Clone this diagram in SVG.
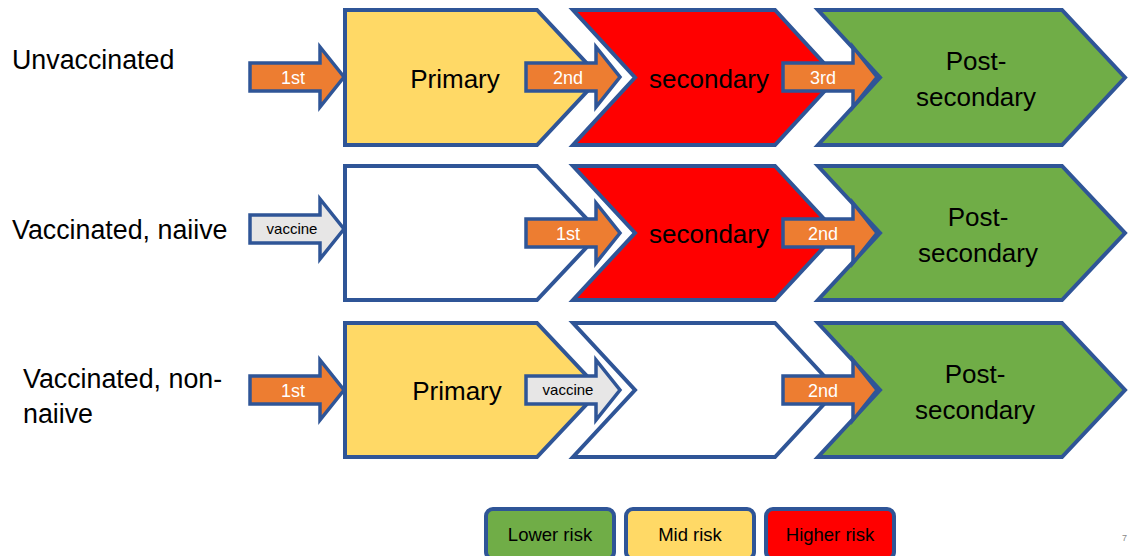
<svg xmlns="http://www.w3.org/2000/svg" width="1129" height="556" viewBox="0 0 1129 556">
<style>
.shape{stroke:#2F5597;stroke-width:4;stroke-linejoin:miter}
.arr{stroke:#2F5597;stroke-width:3.5;stroke-linejoin:miter}
.lbl{font-family:"Liberation Sans",Arial,sans-serif;font-size:26.8px;fill:#000}
.big{font-family:"Liberation Sans",Arial,sans-serif;font-size:26px;fill:#000;text-anchor:middle}
.at{font-family:"Liberation Sans",Arial,sans-serif;font-size:18px;fill:#fff;text-anchor:middle}
.vt{font-family:"Liberation Sans",Arial,sans-serif;font-size:15px;fill:#000;text-anchor:middle}
.lg{font-family:"Liberation Sans",Arial,sans-serif;font-size:18.5px;fill:#000;text-anchor:middle}
.yel{fill:#FFD966}.red{fill:#FF0000}.grn{fill:#70AD47}.wht{fill:#FFFFFF}
.org{fill:#ED7D31}.gry{fill:#E7E6E6}
</style>
<defs>
<path id="ar" d="M0,-14 L70,-14 L70,-30 L94,0 L70,30 L70,14 L0,14 Z"/>
</defs>
<rect width="1129" height="556" fill="#fff"/>

<g id="row-labels">
<text class="lbl" x="12" y="69">Unvaccinated</text>
<text class="lbl" x="12" y="239">Vaccinated, naiive</text>
<text class="lbl" x="23" y="388">Vaccinated, non-</text>
<text class="lbl" x="23" y="423">naiive</text>
</g>

<g id="r1-primary"><path class="shape yel" d="M345,10 L537,10 L600,77.5 L537,145 L345,145 Z"/><text class="big" x="455" y="88">Primary</text></g>
<g id="r1-secondary"><path class="shape red" d="M573,10 L775,10 L837,77.5 L775,145 L573,145 L635,77.5 Z"/><text class="big" x="709" y="88">secondary</text></g>
<g id="r1-post"><path class="shape grn" d="M818,10 L1062,10 L1125,77.5 L1062,145 L818,145 L880,77.5 Z"/><text class="big" x="976" y="70">Post-</text><text class="big" x="976" y="106">secondary</text></g>

<g id="r2-primary"><path class="shape wht" d="M345,166 L537,166 L600,233 L537,300 L345,300 Z"/></g>
<g id="r2-secondary"><path class="shape red" d="M573,166 L775,166 L837,233 L775,300 L573,300 L635,233 Z"/><text class="big" x="709" y="243">secondary</text></g>
<g id="r2-post"><path class="shape grn" d="M818,166 L1062,166 L1125,233 L1062,300 L818,300 L880,233 Z"/><text class="big" x="978" y="226">Post-</text><text class="big" x="978" y="262">secondary</text></g>

<g id="r3-primary"><path class="shape yel" d="M345,323 L537,323 L600,390 L537,457 L345,457 Z"/><text class="big" x="457" y="400">Primary</text></g>
<g id="r3-secondary"><path class="shape wht" d="M573,323 L775,323 L837,390 L775,457 L573,457 L635,390 Z"/></g>
<g id="r3-post"><path class="shape grn" d="M818,323 L1062,323 L1125,390 L1062,457 L818,457 L880,390 Z"/><text class="big" x="975" y="383">Post-</text><text class="big" x="975" y="419">secondary</text></g>

<g id="connectors">
<g transform="translate(250,77)"><use href="#ar" class="arr org"/><text class="at" x="43" y="7">1st</text></g>
<g transform="translate(526,77)"><use href="#ar" class="arr org"/><text class="at" x="42" y="7">2nd</text></g>
<g transform="translate(783,77)"><use href="#ar" class="arr org"/><text class="at" x="40" y="7">3rd</text></g>

<g transform="translate(250,229)"><use href="#ar" class="arr gry"/><text class="vt" x="42" y="5">vaccine</text></g>
<g transform="translate(526,233)"><use href="#ar" class="arr org"/><text class="at" x="42" y="7">1st</text></g>
<g transform="translate(783,233)"><use href="#ar" class="arr org"/><text class="at" x="40" y="7">2nd</text></g>

<g transform="translate(250,390)"><use href="#ar" class="arr org"/><text class="at" x="43" y="7">1st</text></g>
<g transform="translate(526,390)"><use href="#ar" class="arr gry"/><text class="vt" x="42" y="5">vaccine</text></g>
<g transform="translate(783,390)"><use href="#ar" class="arr org"/><text class="at" x="40" y="7">2nd</text></g>
</g>

<g id="legend-lower"><rect class="shape grn" x="486" y="509" width="128" height="50" rx="7"/><text class="lg" x="550" y="541">Lower risk</text></g>
<g id="legend-mid"><rect class="shape yel" x="626" y="509" width="128" height="50" rx="7"/><text class="lg" x="690" y="541">Mid risk</text></g>
<g id="legend-higher"><rect class="shape red" x="766" y="509" width="128" height="50" rx="7"/><text class="lg" x="830" y="541">Higher risk</text></g>
<text x="1127" y="541" text-anchor="end" font-family="Liberation Sans, Arial, sans-serif" font-size="9" fill="#888">7</text>
</svg>
